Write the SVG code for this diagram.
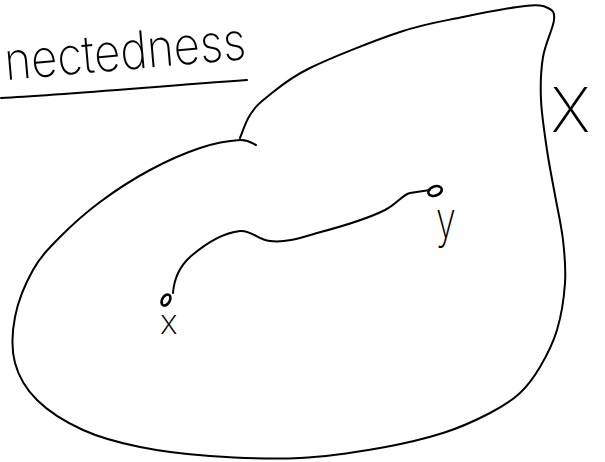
<svg xmlns="http://www.w3.org/2000/svg" width="605" height="462" viewBox="0 0 605 462">
<style>
.ink{fill:none;stroke:#000;stroke-width:2;stroke-linecap:round;stroke-linejoin:round}
.dot{fill:none;stroke:#000;stroke-width:2.6}
.hand{font-family:Inter,"DejaVu Sans","Liberation Sans",sans-serif;font-weight:200;fill:#000}
</style>
<rect width="605" height="462" fill="#fff"/>
<g id="title">
<text class="hand" x="6" y="80" font-size="52" textLength="242" lengthAdjust="spacingAndGlyphs" transform="rotate(-5 6 80)">nectedness</text>
<path class="ink" d="M1,98 C60,95 150,87 247,80"/>
</g>
<g id="space-X">
<path class="ink" d="M256,145 C253.3,144.2 249.3,139.5 240,140 C230.7,140.5 215,143 200,148 C185,153 166.7,161 150,170 C133.3,179 115,190.8 100,202 C85,213.2 71.2,225.7 60,237 C48.8,248.3 40.5,256.7 33,270 C25.5,283.3 18,301.5 15,317 C12,332.5 11.3,349.2 15,363 C18.7,376.8 25.7,388.8 37,400 C48.3,411.2 65.8,422.2 83,430 C100.2,437.8 118.8,442.7 140,447 C161.2,451.3 183.3,454.2 210,456 C236.7,457.8 271.7,459.3 300,458 C328.3,456.7 356.2,452.2 380,448 C403.8,443.8 424.7,438.8 443,433 C461.3,427.2 477.2,419.7 490,413 C502.8,406.3 511.7,400.7 520,393 C528.3,385.3 533.8,377.5 540,367 C546.2,356.5 552.8,344 557,330 C561.2,316 564,298 565,283 C566,268 564.7,254.7 563,240 C561.3,225.3 557.7,210 555,195 C552.3,180 549.3,165.8 547,150 C544.7,134.2 541.7,115.5 541,100 C540.3,84.5 540.8,70.3 543,57 C545.2,43.7 553.2,28.2 554,20 C554.8,11.8 552.8,10.3 548,8 C543.2,5.7 539.2,4.5 525,6 C510.8,7.5 483.8,12.7 463,17 C442.2,21.3 425.5,23.5 400,32 C374.5,40.5 332.2,57.2 310,68 C287.8,78.8 277,89.2 267,97 C257,104.8 254.5,108.2 250,115 C245.5,121.8 241.7,134.2 240,138"/>
<text class="hand" x="551" y="132" font-size="61">X</text>
</g>
<g id="point-x">
<ellipse class="dot" cx="166" cy="300" rx="6" ry="3.8" transform="rotate(-60 166 300)"/>
<text class="hand" x="160" y="334" font-size="34">x</text>
</g>
<g id="point-y">
<ellipse class="dot" cx="435" cy="191" rx="7" ry="4.6" transform="rotate(-20 435 191)"/>
<text class="hand" x="436" y="238" font-size="50" transform="translate(436 0) scale(0.72 1) translate(-436 0)">y</text>
</g>
<g id="connectors">
<path class="ink" d="M173,293 C174,280 178,268 190,257 C205,244 222,233 240,231 C252,230 258,240 270,241 C285,243 300,238 317,233 C340,227 365,220 385,210 C398,203 402,195 410,193 L430,190"/>
</g>
</svg>
